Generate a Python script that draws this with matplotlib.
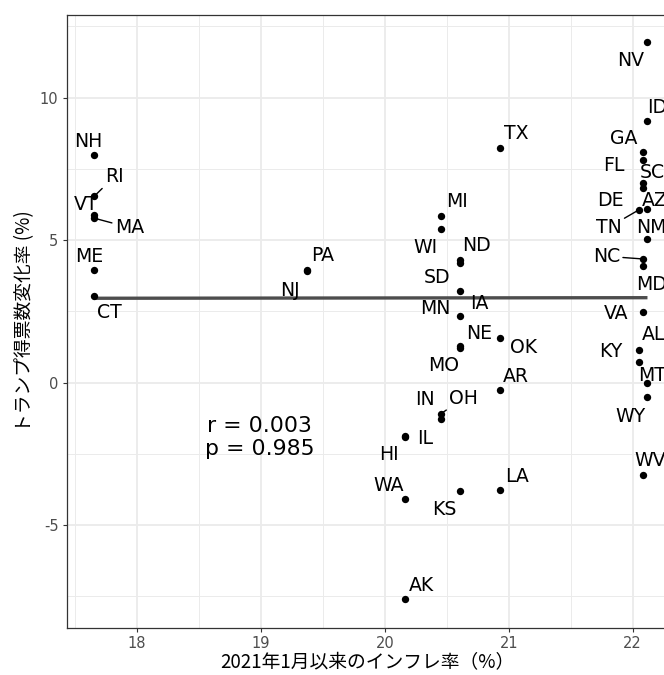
import matplotlib
matplotlib.use("Agg")
import matplotlib.pyplot as plt
import numpy as np

plt.rcParams["savefig.bbox"] = "standard"
plt.rcParams["figure.autolayout"] = False
plt.rcParams["figure.constrained_layout.use"] = False

# ---- data ----
states = ["NH", "RI", "VT", "MA", "ME", "CT", "PA", "NJ", "TX", "MI", "WI",
          "ND", "SD", "IA", "MN", "NE", "MO", "OK", "AR", "OH", "IN", "IL",
          "HI", "WA", "KS", "LA", "AK", "NV", "ID", "GA", "FL", "SC", "DE",
          "AZ", "TN", "NM", "NC", "MD", "VA", "AL", "KY", "MT", "WY", "WV"]
inflation = [17.655, 17.655, 17.655, 17.655, 17.655, 17.655, 19.37, 19.37,
             20.93, 20.45, 20.45, 20.61, 20.61, 20.61, 20.61, 20.61, 20.61,
             20.93, 20.93, 20.45, 20.45, 20.16, 20.16, 20.16, 20.61, 20.93,
             20.16, 22.12, 22.12, 22.08, 22.08, 22.08, 22.08, 22.12, 22.05,
             22.12, 22.08, 22.08, 22.08, 22.05, 22.05, 22.12, 22.12, 22.08]
trump_change = [7.98, 6.54, 5.88, 5.77, 3.94, 3.05, 3.96, 3.92, 8.22, 5.84,
                5.40, 4.30, 4.19, 3.23, 2.34, 1.29, 1.23, 1.57, -0.26, -1.10,
                -1.28, -1.87, -1.90, -4.08, -3.81, -3.76, -7.59, 11.95, 9.19,
                8.09, 7.81, 7.00, 6.82, 6.09, 6.06, 5.04, 4.34, 4.09, 2.49,
                1.15, 0.72, 0.00, -0.51, -3.24]
fit_x = [17.655, 22.12]
fit_y = [2.96, 2.98]
r_text = "r = 0.003"
p_text = "p = 0.985"
x_ticks = [18, 19, 20, 21, 22]
y_ticks = [-5, 0, 5, 10]
x_title = "2021年1月以来のインフレ率（%）"
y_title = "トランプ得票数変化率 (%)"

# ---- label layout (pixel offsets of label centre from point, y up) ----
label_offsets = {
    "NH": (-6, 15), "RI": (20, 21), "VT": (-8, 12), "MA": (35, -8),
    "ME": (-5, 15), "CT": (15, -15), "PA": (16, 16), "NJ": (-17, -18),
    "TX": (16, 16), "MI": (16, 16), "WI": (-15, -17), "ND": (16, 16),
    "SD": (-23, -13), "IA": (19, -12), "MN": (-25, 9), "NE": (19, 14),
    "MO": (-17, -17), "OK": (24, -8), "AR": (16, 15), "OH": (23, 17),
    "IN": (-16, 21), "IL": (20, -1), "HI": (-16, -16), "WA": (-16, 15),
    "KS": (-16, -17), "LA": (17, 15), "AK": (17, 15), "NV": (-17, -17),
    "ID": (10, 15), "GA": (-19, 15), "FL": (-29, -4), "SC": (10, 12),
    "DE": (-32, -11), "AZ": (7, 10), "TN": (-30, -16), "NM": (4, 13),
    "NC": (-36, 4), "MD": (9, -17), "VA": (-26, 0), "AL": (15, 17),
    "KY": (-28, 12), "MT": (5, 8), "WY": (-17, -18), "WV": (8, 16),
}
with_segment = {"RI", "MA", "OH", "TN", "NC"}

W, H, DPI = 664, 675, 100
fig = plt.figure(figsize=(W / DPI, H / DPI), dpi=DPI)
left_px, top_px, bottom_px = 67, 14.7, 627.7
px_per_unit = 123.9
x_lo = 17.435
x_hi = x_lo + (W - left_px) / px_per_unit   # panel continues past the image edge
ax = fig.add_axes([left_px / W, (H - bottom_px) / H,
                   (W - left_px) / W, (bottom_px - top_px) / H])
ax.set_xlim(x_lo, x_hi)
ax.set_ylim(-8.60, 12.91)

# grid
ax.set_xticks(x_ticks)
ax.set_yticks(y_ticks)
ax.set_xticks([17.5, 18.5, 19.5, 20.5, 21.5], minor=True)
ax.set_yticks([-7.5, -2.5, 2.5, 7.5, 12.5], minor=True)
ax.grid(which="major", color="#EBEBEB", lw=1.3, zorder=0)
ax.grid(which="minor", color="#EBEBEB", lw=0.7, zorder=0)
ax.set_axisbelow(True)
for s in ax.spines.values():
    s.set_color("#333333")
    s.set_linewidth(0.9)
ax.spines["right"].set_visible(False)
ax.tick_params(which="major", length=3.2, width=0.8, color="#333333",
               labelsize=10.5, labelcolor="#4D4D4D", pad=3)
ax.tick_params(which="minor", length=0)
ax.set_xticklabels([str(t) for t in x_ticks])
ax.set_yticklabels([str(t) for t in y_ticks])

cjk = ["Noto Sans CJK JP", "DejaVu Sans"]
ax.set_xlabel(x_title, family=cjk, fontsize=13.5, va="center")
ax.xaxis.set_label_coords((367 - left_px) / (W - left_px),
                          -(663 - bottom_px) / (bottom_px - top_px))
ax.set_ylabel(y_title, family=cjk, fontsize=13.5, labelpad=3)

# regression line
ax.plot(fit_x, fit_y, color="#4D4D4D", lw=2.4, zorder=2, solid_capstyle="butt")

# points
ax.scatter(inflation, trump_change, s=28, color="black", zorder=3,
           linewidths=0, clip_on=False)

# labels
fs = 13.6
cap_half = 0.729 * fs * DPI / 72 / 2
for st, xv, yv in zip(states, inflation, trump_change):
    dx, dy = label_offsets[st]
    kw = {}
    if st in with_segment:
        kw["arrowprops"] = dict(arrowstyle="-", color="black", lw=1.0,
                                shrinkA=0, shrinkB=0)
    ax.annotate(st, (xv, yv), xytext=(dx, dy - cap_half),
                textcoords="offset pixels", ha="center", va="baseline",
                fontsize=fs, color="black", zorder=4, **kw)

ax.text(18.99, -1.52, r_text, ha="center", va="center", fontsize=15.8)
ax.text(18.99, -2.34, p_text, ha="center", va="center", fontsize=15.8)

fig.savefig("out.png", dpi=DPI)
